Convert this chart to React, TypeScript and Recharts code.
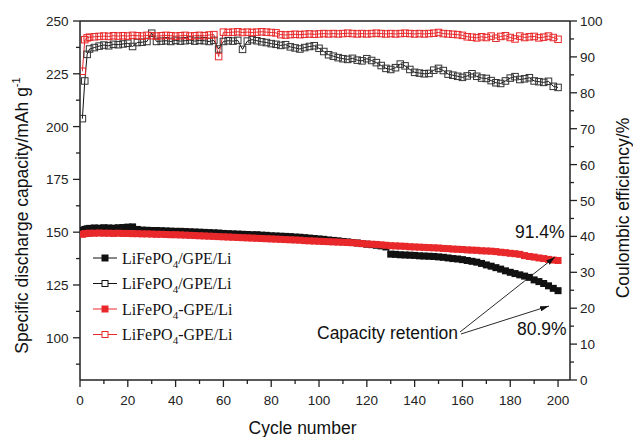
import React from 'react';
import { ComposedChart, Line, XAxis, YAxis, ReferenceLine } from 'recharts';

// Cycle numbers sampled from the figure
const cycles = [
  1, 2, 3, 4, 6, 8, 10, 12, 14, 16,
  18, 20, 22, 24, 26, 28, 30, 32, 34, 36,
  38, 40, 42, 44, 46, 48, 50, 52, 54, 56,
  58, 60, 62, 64, 66, 68, 70, 72, 74, 76,
  78, 80, 82, 84, 86, 88, 90, 92, 94, 96,
  98, 100, 102, 104, 106, 108, 110, 112, 114, 116,
  118, 120, 122, 124, 126, 128, 130, 132, 134, 136,
  138, 140, 142, 144, 146, 148, 150, 152, 154, 156,
  158, 160, 162, 164, 166, 168, 170, 172, 174, 176,
  178, 180, 182, 184, 186, 188, 190, 192, 194, 196,
  198, 200,
];

// LiFePO4/GPE/Li discharge capacity (mAh/g), filled black squares
const capacitySlash = [
  150.8, 151.3, 151.6, 151.8, 152.0, 151.9, 152.1, 152.0, 151.9, 152.1,
  152.2, 152.4, 152.5, 151.3, 151.0, 150.9, 150.8, 150.8, 150.7, 150.6,
  150.5, 150.4, 150.4, 150.3, 150.2, 150.1, 150.0, 149.9, 149.8, 149.7,
  149.6, 149.4, 149.3, 149.2, 149.1, 149.0, 148.9, 148.8, 148.8, 148.6,
  148.5, 148.3, 148.2, 148.1, 148.0, 147.9, 147.7, 147.6, 147.4, 147.2,
  147.0, 146.8, 146.6, 146.3, 146.1, 145.9, 145.6, 145.4, 145.1, 144.9,
  144.6, 144.3, 144.1, 143.8, 143.5, 143.0, 139.6, 139.5, 139.3, 139.2,
  139.1, 139.0, 138.8, 138.7, 138.6, 138.5, 138.3, 138.1, 137.8, 137.5,
  137.3, 137.0, 136.6, 136.2, 135.8, 135.2, 134.5, 133.9, 133.2, 132.5,
  131.7, 131.0, 130.4, 129.8, 129.2, 128.6, 127.4, 126.6, 125.7, 124.6,
  123.4, 122.3,
];

// LiFePO4-GPE/Li discharge capacity (mAh/g), filled red squares
const capacityDash = [
  149.0, 149.3, 149.4, 149.5, 149.5, 149.6, 149.5, 149.5, 149.4, 149.5,
  149.4, 149.4, 149.3, 149.3, 149.2, 149.2, 149.1, 149.0, 149.0, 148.9,
  148.8, 148.8, 148.7, 148.6, 148.5, 148.4, 148.3, 148.2, 148.1, 148.0,
  147.9, 147.8, 147.7, 147.6, 147.5, 147.4, 147.3, 147.2, 147.1, 147.0,
  146.9, 146.8, 146.7, 146.6, 146.5, 146.4, 146.3, 146.2, 146.0, 145.9,
  145.8, 145.7, 145.6, 145.5, 145.4, 145.3, 145.2, 145.1, 145.0, 144.8,
  144.6, 144.4, 144.3, 144.2, 144.0, 143.8, 143.6, 143.5, 143.4, 143.3,
  143.1, 143.0, 142.9, 142.8, 142.7, 142.6, 142.5, 142.3, 142.2, 142.0,
  141.9, 141.8, 141.6, 141.5, 141.4, 141.2, 141.1, 141.0, 140.8, 140.5,
  140.3, 140.0, 139.8, 139.5, 138.9, 138.5, 138.2, 137.8, 137.5, 137.1,
  136.8, 136.6,
];

// LiFePO4/GPE/Li coulombic efficiency (%), open black squares
const efficiencySlash = [
  72.8, 83.3, 90.7, 92.2, 92.6, 93.0, 93.3, 93.1, 93.5, 93.4,
  93.6, 93.8, 92.9, 94.0, 94.1, 94.3, 96.6, 94.3, 94.4, 94.5,
  94.3, 94.6, 94.4, 94.5, 94.7, 94.4, 94.6, 94.5, 94.3, 94.6,
  92.2, 94.3, 94.5, 94.4, 94.6, 92.1, 94.4, 94.8, 94.5, 94.2,
  94.0, 93.7, 93.5, 93.2, 93.4, 92.8, 92.5, 92.2, 92.6, 92.9,
  93.1, 92.4, 91.5, 90.6, 90.2, 89.8, 89.5, 89.3, 89.6, 89.1,
  88.9, 89.5, 89.0, 88.4, 87.6, 86.8, 86.5, 87.0, 88.0, 87.5,
  86.5, 85.7, 85.5, 85.3, 85.4, 86.3, 86.8, 86.2, 85.2, 84.9,
  84.6, 84.3, 84.7, 85.3, 84.6, 84.1, 84.0, 83.4, 82.8, 82.6,
  83.3, 84.1, 84.5, 83.7, 83.9, 84.2, 83.3, 83.1, 82.9, 83.2,
  81.8, 81.5,
];

// LiFePO4-GPE/Li coulombic efficiency (%), open red squares
const efficiencyDash = [
  86.0, 94.8, 95.3, 95.5, 95.6, 95.7, 95.8, 95.7, 95.9, 95.8,
  95.9, 95.8, 96.0, 95.9, 95.8, 96.0, 95.9, 95.8, 95.9, 96.0,
  95.9, 95.8, 95.9, 96.0, 95.8, 95.9, 96.0, 95.9, 96.1, 96.2,
  90.1, 96.9, 96.8, 96.9, 97.0, 96.8, 96.9, 96.8, 96.9, 97.0,
  96.9, 96.8, 96.7, 96.2, 96.1, 96.2, 96.3, 96.2, 96.3, 96.4,
  96.3, 96.4, 96.5, 96.4, 96.5, 96.4, 96.5, 96.6, 96.5, 96.4,
  96.5, 96.4, 96.5, 96.6, 96.5, 96.4, 96.5, 96.4, 96.5, 96.6,
  96.5, 96.4, 96.5, 96.4, 96.5, 96.6, 96.8, 96.5, 96.4, 96.3,
  96.2, 96.0, 95.6, 95.5, 95.3, 95.6, 95.4, 95.8, 95.2, 95.7,
  95.9, 95.4, 95.0, 95.8, 95.4, 95.6, 95.7, 95.3, 95.5, 95.8,
  95.4, 94.9,
];

// Tick values
const xTicks = [0, 10, 20, 30, 40, 50, 60, 70, 80, 90, 100, 110, 120, 130, 140, 150, 160, 170, 180, 190, 200];
const capacityTicks = [87.5, 100, 112.5, 125, 137.5, 150, 162.5, 175, 187.5, 200, 212.5, 225, 237.5, 250];
const efficiencyTicks = [0, 5, 10, 15, 20, 25, 30, 35, 40, 45, 50, 55, 60, 65, 70, 75, 80, 85, 90, 95, 100];

const legendLabels = [
  { pre: 'LiFePO', sub: '4', post: '/GPE/Li' },
  { pre: 'LiFePO', sub: '4', post: '/GPE/Li' },
  { pre: 'LiFePO', sub: '4', post: '-GPE/Li' },
  { pre: 'LiFePO', sub: '4', post: '-GPE/Li' },
];

const data = cycles.map((c, i) => ({
  cycle: c,
  capB: capacitySlash[i],
  capR: capacityDash[i],
  ceB: efficiencySlash[i],
  ceR: efficiencyDash[i],
}));

const AX = '#222';
const BLACK = '#111';
const RED = '#e8282a';
const SANS = '"Liberation Sans", Arial, Helvetica, sans-serif';
const SERIF = '"Liberation Serif", "Times New Roman", serif';

const XTick = (p: any) => {
  const { x, y, payload } = p;
  const v = payload.value;
  const major = v % 20 === 0;
  return (
    <g>
      <line x1={x} x2={x} y1={y} y2={y + (major ? 7 : 4)} stroke={AX} strokeWidth={1.3} />
      {major && (
        <text x={x} y={y + 25} textAnchor="middle" fontSize={13.5} fontFamily={SANS} fill="#222">
          {v}
        </text>
      )}
    </g>
  );
};

const LeftTick = (p: any) => {
  const { x, y, payload } = p;
  const v = payload.value;
  const major = Math.abs(v - 100) % 25 === 0;
  return (
    <g>
      <line x1={x - (major ? 7 : 4)} x2={x} y1={y} y2={y} stroke={AX} strokeWidth={1.3} />
      {major && (
        <text x={x - 11.5} y={y + 5} textAnchor="end" fontSize={13.5} fontFamily={SANS} fill="#222">
          {v}
        </text>
      )}
    </g>
  );
};

const RightTick = (p: any) => {
  const { x, y, payload } = p;
  const v = payload.value;
  const major = v % 10 === 0;
  return (
    <g>
      <line x1={x} x2={x + (major ? 7 : 4)} y1={y} y2={y} stroke={AX} strokeWidth={1.3} />
      {major && (
        <text x={x + 10} y={y + 5} textAnchor="start" fontSize={13.5} fontFamily={SANS} fill="#222">
          {v}
        </text>
      )}
    </g>
  );
};

const square = (size: number, fill: string, stroke: string, sw: number) => (p: any) => {
  const { cx, cy, index } = p;
  if (cx == null || cy == null || isNaN(cx) || isNaN(cy)) return <g key={`e${index}`} />;
  return (
    <rect
      key={`d${index}`}
      x={cx - size / 2}
      y={cy - size / 2}
      width={size}
      height={size}
      fill={fill}
      stroke={stroke}
      strokeWidth={sw}
    />
  );
};

const legendRowsY = [258, 283.5, 309, 334.5];
const legendStyles = [
  { color: BLACK, filled: true },
  { color: BLACK, filled: false },
  { color: RED, filled: true },
  { color: RED, filled: false },
];

export default function App() {
  return (
    <div style={{ position: 'absolute', left: 0, top: 0, width: 633, height: 437, background: '#fff' }}>
      <ComposedChart width={633} height={437} data={data} margin={{ top: 21, right: 0, bottom: 0, left: 0 }}>
        <XAxis
          dataKey="cycle"
          type="number"
          domain={[0, 205]}
          ticks={xTicks}
          interval={0}
          tick={(p: any) => <XTick {...p} />}
          tickLine={false}
          tickSize={0}
          tickMargin={0}
          height={57}
          axisLine={{ stroke: AX, strokeWidth: 1.5 }}
          allowDataOverflow
        />
        <YAxis
          yAxisId="cap"
          type="number"
          domain={[80, 250]}
          ticks={capacityTicks}
          interval={0}
          width={80}
          tick={(p: any) => <LeftTick {...p} />}
          tickLine={false}
          tickSize={0}
          tickMargin={0}
          axisLine={{ stroke: AX, strokeWidth: 1.5 }}
          allowDataOverflow
        />
        <YAxis
          yAxisId="ce"
          orientation="right"
          type="number"
          domain={[0, 100]}
          ticks={efficiencyTicks}
          interval={0}
          width={63}
          tick={(p: any) => <RightTick {...p} />}
          tickLine={false}
          tickSize={0}
          tickMargin={0}
          axisLine={{ stroke: AX, strokeWidth: 1.5 }}
          allowDataOverflow
        />
        <ReferenceLine yAxisId="cap" y={250} stroke={AX} strokeWidth={1.5} />
        <Line
          yAxisId="cap"
          dataKey="capB"
          type="linear"
          stroke={BLACK}
          strokeWidth={1}
          dot={square(7, BLACK, 'none', 0)}
          activeDot={false}
          isAnimationActive={false}
          legendType="none"
        />
        <Line
          yAxisId="cap"
          dataKey="capR"
          type="linear"
          stroke={RED}
          strokeWidth={1}
          dot={square(7, RED, 'none', 0)}
          activeDot={false}
          isAnimationActive={false}
          legendType="none"
        />
        <Line
          yAxisId="ce"
          dataKey="ceB"
          type="linear"
          stroke={BLACK}
          strokeWidth={1}
          dot={square(6.5, 'none', '#333', 1)}
          activeDot={false}
          isAnimationActive={false}
          legendType="none"
        />
        <Line
          yAxisId="ce"
          dataKey="ceR"
          type="linear"
          stroke={RED}
          strokeWidth={1}
          dot={square(6.5, 'none', RED, 1)}
          activeDot={false}
          isAnimationActive={false}
          legendType="none"
        />
      </ComposedChart>
      <svg width={633} height={437} style={{ position: 'absolute', left: 0, top: 0, pointerEvents: 'none' }}>
        <defs>
          <marker id="arrowHead" viewBox="0 0 10 6" refX="10" refY="3" markerWidth="9" markerHeight="5.4" markerUnits="userSpaceOnUse" orient="auto">
            <path d="M0,0 L10,3 L0,6 z" fill="#111" />
          </marker>
        </defs>
        <text
          transform="translate(28,215.5) rotate(-90)"
          textAnchor="middle"
          fontSize={17.5}
          fontFamily={SANS}
          fill="#111"
        >
          Specific discharge capacity/mAh g
          <tspan fontSize={11} dy={-8}>-1</tspan>
        </text>
        <text
          transform="translate(629,208) rotate(-90)"
          textAnchor="middle"
          fontSize={17.5}
          fontFamily={SANS}
          fill="#111"
        >
          Coulombic efficiency/%
        </text>
        <text x={302.5} y={433.5} textAnchor="middle" fontSize={17.5} fontFamily={SANS} fill="#111">
          Cycle number
        </text>
        {legendLabels.map((l, i) => {
          const cy = legendRowsY[i];
          const st = legendStyles[i];
          return (
            <g key={i}>
              <line x1={93} x2={117} y1={cy} y2={cy} stroke={st.color} strokeWidth={1} />
              <rect
                x={102}
                y={cy - 3}
                width={6}
                height={6}
                fill={st.filled ? st.color : '#fff'}
                stroke={st.color}
                strokeWidth={1}
              />
              <text x={122} y={cy + 5.5} fontSize={16} fontFamily={SERIF} fill="#111">
                {l.pre}
                <tspan fontSize={11} dy={4}>{l.sub}</tspan>
                <tspan fontSize={16} dy={-4}>{l.post}</tspan>
              </text>
            </g>
          );
        })}
        <text x={515} y={238} fontSize={17.5} fontFamily={SANS} fill="#111">91.4%</text>
        <text x={517} y={334.5} fontSize={17.5} fontFamily={SANS} fill="#111">80.9%</text>
        <text x={317} y={339} fontSize={17.5} fontFamily={SANS} fill="#111">Capacity retention</text>
        <line x1={460} y1={332} x2={555} y2={257} stroke="#111" strokeWidth={0.9} markerEnd="url(#arrowHead)" />
        <line x1={461} y1={334} x2={549} y2={306} stroke="#111" strokeWidth={0.9} markerEnd="url(#arrowHead)" />
      </svg>
    </div>
  );
}
